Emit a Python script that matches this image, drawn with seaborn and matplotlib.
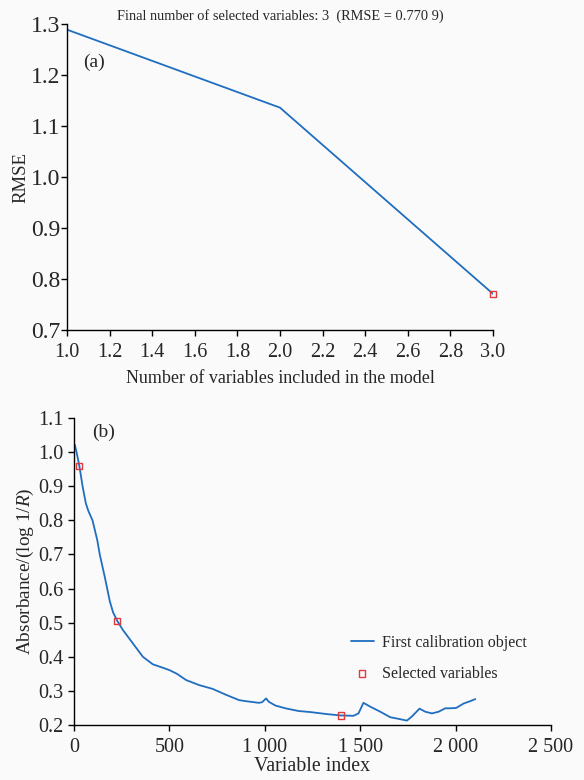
import numpy as np
import pandas as pd
import matplotlib
matplotlib.use("Agg")
import matplotlib.pyplot as plt
import seaborn as sns
from matplotlib.ticker import FuncFormatter, MultipleLocator

# ---- data ----
n_vars = [1, 2, 3]
rmse = [1.289, 1.136, 0.7709]
sel_n = [3]
sel_rmse = [0.7709]

spec_idx = [5, 15, 28, 45, 62, 75, 97, 122, 135, 161, 188, 205, 227, 257, 309, 361,
            413, 460, 500, 540, 587, 656, 726, 795, 865, 899, 969, 986, 1007, 1021,
            1056, 1108, 1177, 1238, 1325, 1399, 1465, 1491, 1517, 1552, 1605, 1657,
            1710, 1745, 1771, 1811, 1841, 1876, 1911, 1946, 1972, 2003, 2042, 2077,
            2103]
spec_val = [1.021, 0.995, 0.960, 0.900, 0.850, 0.828, 0.800, 0.742, 0.700, 0.635,
            0.562, 0.530, 0.505, 0.478, 0.439, 0.400, 0.378, 0.369, 0.361, 0.350,
            0.332, 0.317, 0.306, 0.289, 0.273, 0.270, 0.265, 0.267, 0.278, 0.268,
            0.257, 0.249, 0.241, 0.238, 0.232, 0.228, 0.227, 0.234, 0.265, 0.254,
            0.239, 0.223, 0.217, 0.213, 0.225, 0.248, 0.239, 0.234, 0.239, 0.249,
            0.249, 0.250, 0.263, 0.270, 0.276]
sel_idx = [28, 227, 1399]
sel_val = [0.960, 0.505, 0.228]

title = "Final number of selected variables: 3  (RMSE = 0.770 9)"

# ---- style ----
sns.set_theme(style="ticks")
plt.rcParams["font.family"] = ["Liberation Serif", "DejaVu Serif"]
plt.rcParams["mathtext.fontset"] = "custom"
plt.rcParams["mathtext.rm"] = "Liberation Serif"
plt.rcParams["mathtext.it"] = "Liberation Serif:italic"
plt.rcParams["xtick.direction"] = "out"
plt.rcParams["ytick.direction"] = "out"

line_color = "#1f6ec0"
mark_color = "#e03a3a"
bg = "#fafafa"

fig = plt.figure(figsize=(5.84, 7.8), dpi=100, facecolor=bg)
ax1 = fig.add_axes([0.1147, 0.5769, 0.7295, 0.3923])
ax2 = fig.add_axes([0.1267, 0.0705, 0.8168, 0.3936])

for ax in (ax1, ax2):
    ax.set_facecolor(bg)
    sns.despine(ax=ax)
    for s in ("left", "bottom"):
        ax.spines[s].set_color("black")
        ax.spines[s].set_linewidth(1.0)
    ax.tick_params(length=4, width=1, color="black")

ax1.tick_params(axis="x", labelsize=14.5, pad=5.5)
ax1.tick_params(axis="y", labelsize=17, pad=0.5)
ax2.tick_params(axis="x", labelsize=14.5, pad=5)
ax2.tick_params(axis="y", labelsize=14.5, pad=3.5)

# ---- top panel ----
df1 = pd.DataFrame({"n": n_vars, "rmse": rmse})
sns.lineplot(data=df1, x="n", y="rmse", ax=ax1, color=line_color, lw=1.3)
ax1.scatter(sel_n, sel_rmse, marker="s", s=20, facecolors="none",
            edgecolors=mark_color, linewidths=1.0, zorder=5, clip_on=False)
ax1.set_xlim(1.0, 3.0)
ax1.set_ylim(0.7, 1.3)
ax1.xaxis.set_major_locator(MultipleLocator(0.2))
ax1.yaxis.set_major_locator(MultipleLocator(0.1))
ax1.xaxis.set_major_formatter(FuncFormatter(lambda v, p: f"{v:.1f}"))
ax1.yaxis.set_major_formatter(FuncFormatter(lambda v, p: f"{v:.1f}"))
ax1.set_xlabel("Number of variables included in the model", fontsize=13, labelpad=5.5)
ax1.set_ylabel("RMSE", fontsize=13.5, labelpad=1)
ax1.set_title(title, fontsize=10.4, pad=3)
ax1.text(0.037, 0.876, "(a)", transform=ax1.transAxes, fontsize=14, va="center")

# ---- bottom panel ----
df2 = pd.DataFrame({"idx": spec_idx, "val": spec_val})
sns.lineplot(data=df2, x="idx", y="val", ax=ax2, color=line_color, lw=1.3,
             label="First calibration object")
ax2.scatter(sel_idx, sel_val, marker="s", s=20, facecolors="none",
            edgecolors=mark_color, linewidths=1.0, zorder=5,
            label="Selected variables")
ax2.set_xlim(0, 2500)
ax2.set_ylim(0.2, 1.1)
ax2.xaxis.set_major_locator(MultipleLocator(500))
ax2.yaxis.set_major_locator(MultipleLocator(0.1))
ax2.xaxis.set_major_formatter(FuncFormatter(
    lambda v, p: f"{int(v):,}".replace(",", " ")))
ax2.yaxis.set_major_formatter(FuncFormatter(lambda v, p: f"{v:.1f}"))
ax2.set_xlabel("Variable index", fontsize=14.4, labelpad=0.5)
ax2.set_ylabel("Absorbance/(log 1/$\\mathit{R}$)", fontsize=13.9, labelpad=1.5)
ax2.text(0.038, 0.954, "(b)", transform=ax2.transAxes, fontsize=14, va="center")
ax2.legend(loc="lower right", bbox_to_anchor=(0.962, 0.12), frameon=False,
           fontsize=11.5, handlelength=1.45, handletextpad=0.5,
           labelspacing=0.95, borderaxespad=0)

fig.savefig("out.png", dpi=100, facecolor=bg)
